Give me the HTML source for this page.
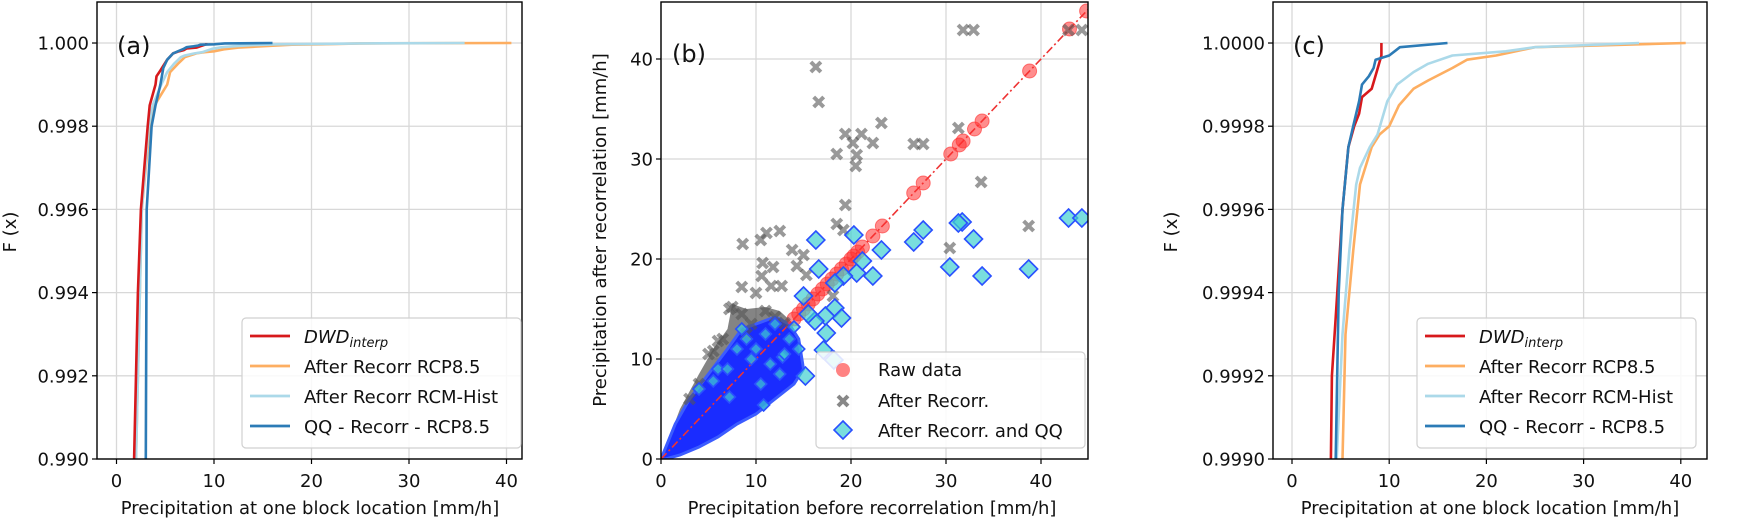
<!DOCTYPE html>
<html><head><meta charset="utf-8">
<style>
html,body{margin:0;padding:0;background:#fff;width:1746px;height:528px;overflow:hidden;}
svg{display:block;font-family:"DejaVu Sans","Liberation Sans",sans-serif;}
</style></head>
<body>
<svg id="fig" width="1746" height="528" viewBox="0 0 1746 528" xmlns="http://www.w3.org/2000/svg"></svg>
<script>
// ---------- Panel (a)/(c) CDF data ----------
const dwdX = [1.8,2.2,2.5,3.2,3.4,4.0,4.1,4.5,5.2,5.6,5.8,6.4,6.9,7.2,8.2,8.7,9.2,9.2];
const dwdF = [0.990,0.994,0.996,0.998,0.9985,0.9990,0.9992,0.99934,0.9996,0.9997,0.99975,0.9998,0.99983,0.99987,0.99989,0.99993,0.99997,1.0];
const rcpX = [2.0,2.6,3.4,3.9,5.2,5.5,6.3,7.0,8.2,9.0,10.0,11.0,12.5,14,16.5,18,21,25,40.5];
const rcpF = [0.990,0.996,0.998,0.9985,0.9990,0.9993,0.9995,0.99966,0.99975,0.99978,0.9998,0.99985,0.99989,0.99991,0.99994,0.99996,0.99997,0.99999,1.0];
const histX = [2.0,2.6,3.3,3.7,4.6,5.2,5.9,6.6,7.0,8.0,8.8,9.8,10.8,12.5,14.0,16.5,22.0,25,35.7];
const histF = [0.990,0.996,0.998,0.9985,0.9990,0.9993,0.9995,0.99966,0.9997,0.99975,0.99978,0.99986,0.9999,0.99993,0.99995,0.99997,0.99998,0.99999,1.0];
const qqX = [3.0,3.1,3.6,4.0,4.5,4.8,5.2,5.8,6.3,6.9,7.2,7.9,8.4,8.6,10.0,11.1,16.0];
const qqF = [0.990,0.996,0.998,0.9985,0.9990,0.9994,0.9996,0.99975,0.9998,0.99986,0.9999,0.99992,0.99994,0.99996,0.99997,0.99999,1.0];
const xTicks = [0,10,20,30,40];
const yTicksA = [0.990,0.992,0.994,0.996,0.998,1.000];
const yTickLabelsA = ["0.990","0.992","0.994","0.996","0.998","1.000"];
const yTicksC = [0.9990,0.9992,0.9994,0.9996,0.9998,1.0000];
const yTickLabelsC = ["0.9990","0.9992","0.9994","0.9996","0.9998","1.0000"];
// ---------- Panel (b) scatter data ----------
const rawVals = [14,14.5,15,15.5,16,16.5,17,17.5,18,18.5,19,19.5,20,20.3,20.7,21.2,22.3,23.3,26.6,27.6,30.5,31.4,31.8,33,33.8,38.8,43,44.8];
const recX = [16.3,16.6,31.8,32.9,42.9,44.3,23.2,19.4,21.1,22.3,20.2,18.5,20.6,20.5,26.6,27.6,31.3,33.7,19.4,18.5,38.7,30.4,8.6,10.5,11.1,12.5,13.8,15,10.7,11.8,10.6,8.5,10,11.6,12.7,14.3,15.3,18.1,19.2,7.2,8.5,6.5,5,9.5,7.5,6,4,3,11,12,13,9,5.5];
const recY = [39.2,35.7,42.9,42.9,42.9,42.9,33.6,32.5,32.5,31.6,31.6,30.5,30.4,29.3,31.5,31.5,33.1,27.7,25.4,23.5,23.3,21.1,21.5,21.9,22.6,22.8,20.9,20.4,19.6,19.2,18.3,17.2,16.6,17.3,17.3,19.3,18.4,16.3,22.9,15,14.5,12,10.5,13.5,15.2,11.8,7.5,6,14.8,14.2,13.6,12.5,10.8];
const qqBX = [16.3,20.3,23.2,26.6,27.6,31.7,31.3,32.9,42.9,44.3,30.4,38.7,33.8,22.3,20.6,21.2,16.6,19.2,18.3,18.3,19,17.3,17.4,16.2,15,17.1,18.2,15.2,10.8,8.5,11,12,13.5,14.5,10,6,4,15.5,14,12.8,9,7.2,9.5,11.5,13,8,10.5,12.5,7,5.5];
const qqBY = [21.9,22.4,20.9,21.7,22.9,23.7,23.6,22.0,24.1,24.1,19.2,19.0,18.3,18.3,18.6,19.8,19,18.3,17.6,15.1,14.1,14.3,12.6,13.8,16.3,10.9,9.9,8.3,5.4,13,12.5,13.5,12,11,11,9,7,14.5,13.2,10.2,12,6.2,10,9.5,10.5,11,7.5,8.5,9,7.8];
const cloudBX = [0,1.5,3,5,7,8.5,10,12,13.5,14.5,15,14,12,10,8,6,4,2,0.5];
const cloudBY = [0,3.5,6,8.5,11,13,13.5,14.2,13.5,12,9,7.5,6,4.5,3.5,2.2,1.2,0.4,0];
const cloudGX = [0,2,4,5.5,7,7.5,9,11,12.5,14,12,9,6,3,1];
const cloudGY = [0,5,8.5,11,13,15.5,15,15.2,14.8,13.5,10,6.5,3.5,1.2,0];
const bTicks = [0,10,20,30,40];

const NS="http://www.w3.org/2000/svg";
const svg=document.getElementById('fig');
function mk(tag,attrs,parent){const e=document.createElementNS(NS,tag);for(const k in attrs)e.setAttribute(k,attrs[k]);(parent||svg).appendChild(e);return e;}
function txt(s,attrs,parent){const e=mk('text',attrs,parent);e.textContent=s;return e;}

function axes(name,L,R,T,B,x0,x1,y0,y1){
  const g=mk('g',{});
  
  
  return {g,L,R,T,B,sx:v=>L+(v-x0)/(x1-x0)*(R-L),sy:v=>B-(v-y0)/(y1-y0)*(B-T)};
}
function grid(ax,xt,yt,ylab){
  const gg=mk('g',{},ax.g);
  
  
  xt.forEach(v=>{const x=ax.sx(v);mk('line',{x1:x,x2:x,y1:ax.T,y2:ax.B,stroke:'#d8d8d8','stroke-width':1.3},gg);
    mk('line',{x1:x,x2:x,y1:ax.B,y2:ax.B+5,stroke:'#000','stroke-width':1.2},ax.g);
    const t=txt(String(v),{x:x,y:ax.B+28,'font-size':18,'text-anchor':'middle',fill:'#111'},ax.g);
    });
  yt.forEach((v,i)=>{const y=ax.sy(v);mk('line',{x1:ax.L,x2:ax.R,y1:y,y2:y,stroke:'#d8d8d8','stroke-width':1.3},gg);
    mk('line',{x1:ax.L-5,x2:ax.L,y1:y,y2:y,stroke:'#000','stroke-width':1.2},ax.g);
    const t=txt(ylab[i],{x:ax.L-8,y:y+6.5,'font-size':18,'text-anchor':'end',fill:'#111'},ax.g);
    });
}
function frame(ax){const r=mk('rect',{x:ax.L,y:ax.T,width:ax.R-ax.L,height:ax.B-ax.T,fill:'none',stroke:'#000','stroke-width':1.4},ax.g);
  }
function clip(ax,id){const d=mk('clipPath',{id:id});mk('rect',{x:ax.L,y:ax.T,width:ax.R-ax.L,height:ax.B-ax.T},d);return 'url(#'+id+')';}
function line(ax,X,Y,color,name,cp){
  const pts=X.map((x,i)=>ax.sx(x).toFixed(1)+','+ax.sy(Y[i]).toFixed(1)).join(' ');
  const p=mk('polyline',{points:pts,fill:'none',stroke:color,'stroke-width':2.6,'stroke-linejoin':'round','clip-path':cp},ax.g);
  
}
const C={red:'#d7191c',orange:'#fdae61',light:'#abd9e9',blue:'#2c7bb6'};
function cdfLegend(ax,x,y){
  const g=mk('g',{},ax.g);
  
  
  mk('rect',{x:x,y:y,width:279,height:130,rx:4,fill:'#fff','fill-opacity':0.85,stroke:'#d0d0d0','stroke-width':1.2},g);
  const items=[[C.red,'DWD'],[C.orange,'After Recorr RCP8.5'],[C.light,'After Recorr RCM-Hist'],[C.blue,'QQ - Recorr - RCP8.5']];
  items.forEach((it,i)=>{const yy=y+18+i*30;
    const e=mk('g',{},g);
    mk('line',{x1:x+8,x2:x+48,y1:yy,y2:yy,stroke:it[0],'stroke-width':2.8},e);
    if(i===0){const t=txt('',{x:x+62,y:yy+7,'font-size':18,fill:'#111','font-style':'italic'},e);
      const a=mk('tspan',{},t);a.textContent='DWD';const b=mk('tspan',{'font-size':13,dy:4},t);b.textContent='interp';}
    else txt(it[1],{x:x+62,y:yy+7,'font-size':18,fill:'#111'},e);
  });
}
function cdfPanel(name,L,R,x0,x1,y0,y1,yt,ylab,legX,label,labX,ylX,xlX){
  const ax=axes(name,L,R,2,459,x0,x1,y0,y1);
  grid(ax,xTicks,yt,ylab);
  const cp=clip(ax,name+'-clip');
  line(ax,rcpX,rcpF,C.orange,'series-after-recorr-rcp85',cp);
  line(ax,histX,histF,C.light,'series-after-recorr-rcm-hist',cp);
  line(ax,dwdX,dwdF,C.red,'series-dwd-interp',cp);
  line(ax,qqX,qqF,C.blue,'series-qq-recorr-rcp85',cp);
  frame(ax);
  cdfLegend(ax,legX,318);
  const pl=txt(label,{x:labX,y:54,'font-size':24,fill:'#111'},ax.g);
  const yl=txt('F (x)',{x:ylX,y:232,'font-size':18,'text-anchor':'middle',fill:'#111',transform:'rotate(-90 '+ylX+' 232)'},ax.g);
  
  const xl=txt('Precipitation at one block location [mm/h]',{x:xlX,y:514,'font-size':18,'text-anchor':'middle',fill:'#111'},ax.g);
  
}
cdfPanel('panel-a',97,522,(97-116.5)/9.75,(522-116.5)/9.75,0.990,1.000986,yTicksA,yTickLabelsA,242,'(a)',117,16,310);
cdfPanel('panel-c',1273,1707,(1273-1292)/9.72,(1707-1292)/9.72,0.9990,1.0000986,yTicksC,yTickLabelsC,1417,'(c)',1293,1177,1490);

// ---------- Panel b ----------
(function(){
  const ax=axes('panel-b',661,1088,2,459,0,(1088-661)/9.5,0,45.7);
  grid(ax,bTicks,bTicks,bTicks.map(String));
  const cp=clip(ax,'b-clip');
  const pg=mk('g',{'clip-path':cp},ax.g);
  const gc=mk('polygon',{points:cloudGX.map((x,i)=>ax.sx(x)+','+ax.sy(cloudGY[i])).join(' '),fill:'#505050','fill-opacity':0.7},pg);
  
  const bc=mk('polygon',{points:cloudBX.map((x,i)=>ax.sx(x)+','+ax.sy(cloudBY[i])).join(' '),fill:'#1a2cff','stroke':'#3c5cff','stroke-width':3},pg);
  
  const dl=mk('line',{x1:ax.sx(0),y1:ax.sy(0),x2:ax.sx(45),y2:ax.sy(45),stroke:'#ee3333','stroke-width':1.6,'stroke-dasharray':'8,3,2,3'},pg);
  
  rawVals.forEach(v=>{const c=mk('circle',{cx:ax.sx(v),cy:ax.sy(v),r:7,fill:'#ff3030','fill-opacity':0.55,stroke:'#ff3030','stroke-opacity':0.6},pg);
    });
  recX.forEach((x,i)=>{const cx=ax.sx(x),cy=ax.sy(recY[i]),s=5;
    const p=mk('path',{d:`M${cx-s},${cy-s}L${cx+s},${cy+s}M${cx-s},${cy+s}L${cx+s},${cy-s}`,stroke:'#555','stroke-opacity':0.6,'stroke-width':4},pg);
    });
  qqBX.forEach((x,i)=>{const cx=ax.sx(x),cy=ax.sy(qqBY[i]),s=(x>15||qqBY[i]>15)?9:6;
    const p=mk('polygon',{points:`${cx},${cy-s} ${cx+s},${cy} ${cx},${cy+s} ${cx-s},${cy}`,fill:'#40d0d0','fill-opacity':0.7,stroke:'#2a50ff','stroke-width':1.6},pg);
    });
  frame(ax);
  const g=mk('g',{},ax.g);
  
  
  mk('rect',{x:816,y:352,width:269,height:96,rx:4,fill:'#fff','fill-opacity':0.85,stroke:'#d0d0d0','stroke-width':1.2},g);
  const e1=mk('g',{},g);
  mk('circle',{cx:843,cy:370,r:7,fill:'#ff3030','fill-opacity':0.6},e1);
  txt('Raw data',{x:878,y:376,'font-size':18,fill:'#111'},e1);
  const e2=mk('g',{},g);
  mk('path',{d:'M838,396L848,406M838,406L848,396',stroke:'#555','stroke-opacity':0.7,'stroke-width':4},e2);
  txt('After Recorr.',{x:878,y:407,'font-size':18,fill:'#111'},e2);
  const e3=mk('g',{},g);
  mk('polygon',{points:'843,421 852,430 843,439 834,430',fill:'#40d0d0','fill-opacity':0.7,stroke:'#2a50ff','stroke-width':1.6},e3);
  txt('After Recorr. and QQ',{x:878,y:437,'font-size':18,fill:'#111'},e3);
  const pl=txt('(b)',{x:672,y:62,'font-size':24,fill:'#111'},ax.g);
  const yl=txt('Precipitation after recorrelation [mm/h]',{x:606,y:230,'font-size':18,'text-anchor':'middle',fill:'#111',transform:'rotate(-90 606 230)'},ax.g);
  
  const xl=txt('Precipitation before recorrelation [mm/h]',{x:872,y:514,'font-size':18,'text-anchor':'middle',fill:'#111'},ax.g);
  
})();
</script>
</body></html>
